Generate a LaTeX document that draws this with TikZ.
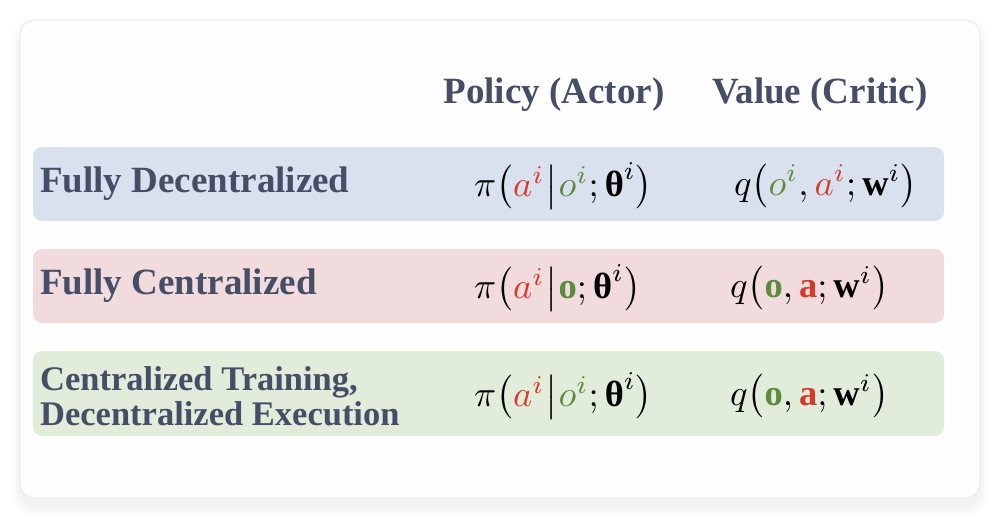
\documentclass[tikz,border=0pt]{standalone}
\usepackage{amsmath}
\usepackage{graphicx}
\usepackage{fontspec}
\setmainfont{Liberation Serif}
\definecolor{txt}{HTML}{454E66}
\definecolor{mred}{HTML}{D63A2A}
\definecolor{mgrn}{HTML}{5B8C3E}
\definecolor{rowblue}{HTML}{D9E1EF}
\definecolor{rowred}{HTML}{F1DBDC}
\definecolor{rowgrn}{HTML}{E2ECDB}
\definecolor{framefill}{HTML}{FDFDFD}
\definecolor{frameline}{HTML}{E2E2E2}
\newcommand{\cred}[1]{\textcolor{mred}{#1}}
\newcommand{\cgrn}[1]{\textcolor{mgrn}{#1}}
\newcommand{\bth}{\text{\bfseries θ}}
\newcommand{\mbar}{\mkern0.5mu\big|\mkern0.5mu}
\newcommand{\mbig}[1]{\scalebox{3.65}{\fontsize{10}{12}\selectfont$#1$}}
\begin{document}
\begin{tikzpicture}[x=1pt,y=-1pt,
  rowbox/.style={rounded corners=9pt},
  hdr/.style={inner sep=0pt,text=txt,font=\fontsize{37}{40}\selectfont\bfseries},
  lbl/.style={inner sep=0pt,anchor=west,text=txt,font=\fontsize{37}{40}\selectfont\bfseries},
  lbltwo/.style={inner sep=0pt,anchor=west,align=left,text=txt,font=\fontsize{34.5}{35}\selectfont\bfseries},
  mth/.style={inner sep=0pt,anchor=west}]
\useasboundingbox (0,0) rectangle (1000,519);
\fill[white] (0,0) rectangle (1000,519);
% shadow
\foreach \k in {1,...,12}{
  \fill[black,opacity=0.005,rounded corners=15+\k] (20-\k+2,20-\k+8) rectangle (980+\k-2,498+\k+8);
}
\filldraw[fill=framefill,draw=frameline,line width=0.6pt,rounded corners=15pt] (20,20) rectangle (980,498);
% rows
\fill[rowblue,rowbox] (33,147) rectangle (944,221);
\fill[rowred,rowbox] (33,249) rectangle (944,323);
\fill[rowgrn,rowbox] (33,351) rectangle (944,436);
% headers
\node[hdr] (hpol) at (554,95) {Policy (Actor)};
\node[hdr] (hval) at (820,95) {Value (Critic)};
% labels
\node[lbl] (l1) at (40,184) {Fully Decentralized};
\node[lbl] (l2) at (40,286) {Fully Centralized};
\node[lbltwo] (l3) at (40,396) {Centralized Training,\\Decentralized Execution};
% math
\node[mth] (p1) at (474,186) {\mbig{\pi\bigl(\cred{a^i}\mbar\cgrn{o^i};\bth^i\bigr)}};
\node[mth] (q1) at (734,186) {\mbig{q\bigl(\cgrn{o^i},\cred{a^i};\mathbf{w}^i\bigr)}};
\node[mth] (p2) at (474,288) {\mbig{\pi\bigl(\cred{a^i}\mbar\cgrn{\mathbf{o}};\bth^i\bigr)}};
\node[mth] (q2) at (730,288) {\mbig{q\bigl(\cgrn{\mathbf{o}},\cred{\mathbf{a}};\mathbf{w}^i\bigr)}};
\node[mth] (p3) at (474,396) {\mbig{\pi\bigl(\cred{a^i}\mbar\cgrn{o^i};\bth^i\bigr)}};
\node[mth] (q3) at (730,396) {\mbig{q\bigl(\cgrn{\mathbf{o}},\cred{\mathbf{a}};\mathbf{w}^i\bigr)}};
\end{tikzpicture}
\end{document}
